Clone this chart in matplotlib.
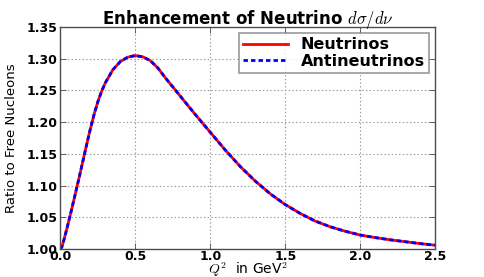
import matplotlib
matplotlib.use("Agg")
import matplotlib.pyplot as plt

# ratio of nuclear to free-nucleon d(sigma)/d(nu)
q2 = [0.0, 0.01, 0.025, 0.05, 0.075, 0.1, 0.125, 0.15, 0.175, 0.2, 0.225,
      0.25, 0.275, 0.3, 0.35, 0.4, 0.45, 0.5, 0.55, 0.6, 0.65, 0.7, 0.75,
      0.8, 0.85, 0.9, 0.95, 1.0, 1.1, 1.2, 1.3, 1.4, 1.5, 1.6, 1.7, 1.8,
      1.9, 2.0, 2.1, 2.2, 2.3, 2.4, 2.5]
ratio_nu = [1.000, 1.003, 1.015, 1.038, 1.062, 1.087, 1.112, 1.138, 1.164,
            1.189, 1.212, 1.232, 1.2485, 1.262, 1.2825, 1.2955, 1.3025,
            1.305, 1.303, 1.297, 1.2855, 1.270, 1.2555, 1.241, 1.2265,
            1.212, 1.198, 1.184, 1.156, 1.130, 1.107, 1.087, 1.070, 1.056,
            1.044, 1.035, 1.028, 1.022, 1.018, 1.0145, 1.0115, 1.0085, 1.006]
ratio_nubar = list(ratio_nu)  # curves lie on top of each other

yticks = [1.00, 1.05, 1.10, 1.15, 1.20, 1.25, 1.30, 1.35]
xticks = [0.0, 0.5, 1.0, 1.5, 2.0, 2.5]

plt.rcParams["lines.scale_dashes"] = False
plt.rcParams["mathtext.fontset"] = "cm"

fig = plt.figure(figsize=(4.84, 2.77), dpi=100)
ax = fig.add_axes([0.1246, 0.101, 0.7748, 0.8015])

ax.plot(q2, ratio_nu, color="red", lw=2.0, label="Neutrinos")
ax.plot(q2, ratio_nubar, color="blue", lw=2.0, dashes=(3.2, 2.2),
        label="Antineutrinos")

ax.set_xlim(0, 2.5)
ax.set_ylim(1.0, 1.35)
ax.set_xticks(xticks)
ax.set_yticks(yticks)
ax.set_xticklabels([f"{t:.1f}" for t in xticks], fontweight="heavy", fontsize=9)
ax.set_yticklabels([f"{t:.2f}" for t in yticks], fontweight="heavy", fontsize=9)
ax.tick_params(direction="in", top=True, right=True, length=4, width=0.6,
               color="0.3")
ax.tick_params(axis="x", pad=1)
ax.tick_params(axis="y", pad=2)
for s in ax.spines.values():
    s.set_color("0.3")
    s.set_linewidth(1.0)
ax.grid(True, color="0.6", linestyle=":", linewidth=0.8)

ax.set_title(r"Enhancement of Neutrino $d\sigma/d\nu$", fontweight="heavy",
             fontsize=12, pad=2)
ax.set_xlabel(r"$Q^2$  in GeV$^2$", fontsize=10, labelpad=-2)
ax.set_ylabel("Ratio to Free Nucleons", fontsize=9.5, labelpad=6)

leg = ax.legend(loc="upper right", prop={"weight": "heavy", "size": 11.5},
                handlelength=2.8, fancybox=False, borderaxespad=0.4,
                labelspacing=0.1, borderpad=0.25, handletextpad=0.8)
leg.get_frame().set_edgecolor("0.5")
leg.get_frame().set_linewidth(1.2)

fig.savefig("out.png", dpi=100)
